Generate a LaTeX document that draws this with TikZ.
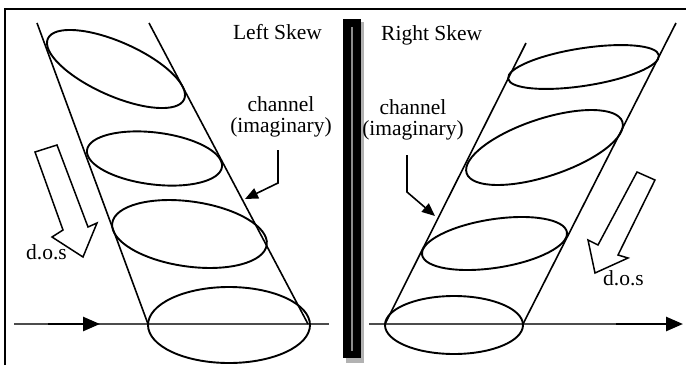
\documentclass[tikz,border=0pt]{standalone}
\usepackage{fontspec}
\setmainfont{Liberation Serif}
\usetikzlibrary{arrows.meta,calc}
\tikzset{
  >=stealth,
  every node/.style={font=\fontsize{21.5}{21}\selectfont, inner sep=0pt},
  % --- shapes
  rim/.style    = {line width=1.9pt, draw=black},
  wall/.style   = {line width=1.6pt, draw=black},
  frame/.style  = {line width=2pt, draw=black},
  hollow/.style = {line width=1.5pt, draw=black, fill=white, line join=miter},
  % --- edges
  axis/.style   = {line width=1.4pt, draw=black!70},
  axhead/.style = {line width=2.6pt, draw=black, -{Triangle[length=17pt,width=14pt]}},
  ptr/.style    = {line width=1.6pt, draw=black, -{Triangle[length=13pt,width=11pt]}},
  lbl/.style    = {align=center},
}
\begin{document}
\begin{tikzpicture}[x=1pt,y=-1pt]
  \useasboundingbox (0,0) rectangle (686,365);
  \draw[frame] (5,365) -- (5,9) -- (686,9);

  % separator bar
  \fill[black!30] (346,22) rectangle (364,363);
  \fill[black] (343,19) rectangle (361,358);
  \draw[black!45, line width=1.6pt] (352,27) -- (352,351);

  % --- left skew
  \coordinate (la) at (14,324);  \coordinate (lb) at (329,324);
  \coordinate (lh0) at (48,324); \coordinate (lh1) at (100,324);
  \draw[axis] (la) -- (lb);
  \draw[axhead] (lh0) -- (lh1);
  \draw[wall] (37,23) -- (148,324);
  \draw[wall] (149,23) -- (308,324);
  \draw[rim, rotate around={-24:(116,69)}]   (116,69)   ellipse [x radius=74.6, y radius=26.9];
  \draw[rim, rotate around={-7:(154.5,158.5)}] (154.5,158.5) ellipse [x radius=68, y radius=26];
  \draw[rim, rotate around={-8:(189.5,234)}] (189.5,234) ellipse [x radius=78, y radius=32.5];
  \draw[rim] (229,325) ellipse [x radius=81, y radius=38];
  \draw[hollow] (35,152) -- (57,145) -- (88,227) -- (97,223) -- (83,257)
                -- (52,237) -- (63,230) -- cycle;
  \node[anchor=base] (ltitle) at (277.5,39.5) {Left Skew};
  \node[lbl] (lchan) at (281,117) {channel\\(imaginary)};
  \node[anchor=base west] (ldos) at (26,259) {d.o.s};
  \coordinate (lp0) at (278,150); \coordinate (lp1) at (278,183);
  \coordinate (lp2) at (245,199);
  \draw[ptr] (lp0) -- (lp1) -- (lp2);

  % --- right skew
  \coordinate (ra) at (369,324);  \coordinate (rb) at (616,324);
  \coordinate (rh1) at (683,324);
  \draw[axis] (ra) -- (rb);
  \draw[axhead] (rb) -- (rh1);
  \draw[wall] (526,43) -- (385,324);
  \draw[wall] (676,23) -- (523,324);
  \draw[rim, rotate around={8.8:(583.5,67)}]   (583.5,67)   ellipse [x radius=76.3, y radius=18.8];
  \draw[rim, rotate around={18.3:(544.5,147.5)}] (544.5,147.5) ellipse [x radius=82, y radius=28.7];
  \draw[rim, rotate around={8.8:(494.5,243.5)}] (494.5,243.5) ellipse [x radius=73.3, y radius=24.3];
  \draw[rim] (454,325) ellipse [x radius=69, y radius=29];
  \draw[hollow] (637,172) -- (655,180) -- (618,255) -- (628,258) -- (595,273)
                -- (588,240) -- (598,245) -- cycle;
  \node[anchor=base west] (rtitle) at (381,40) {Right Skew};
  \node[lbl] (rchan) at (413,120) {channel\\(imaginary)};
  \node[anchor=base west] (rdos) at (603,285) {d.o.s};
  \coordinate (rp0) at (407,155); \coordinate (rp1) at (407,192);
  \coordinate (rp2) at (435,216);
  \draw[ptr] (rp0) -- (rp1) -- (rp2);
\end{tikzpicture}
\end{document}
